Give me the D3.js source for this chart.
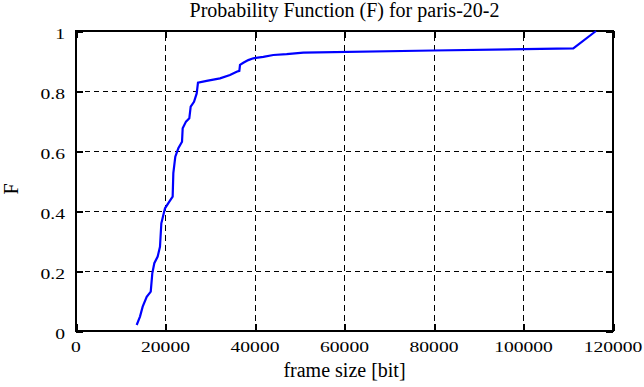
<!DOCTYPE html>
<html>
<head>
<meta charset="utf-8">
<script src="https://cdn.jsdelivr.net/npm/d3@7/dist/d3.min.js"></script>
<style>
  body { margin: 0; background: #fff; }
  svg { display: block; }
</style>
</head>
<body>
<svg id="chart" width="644" height="387"></svg>
<script>
// frame size [bit] and cumulative probability F
const frameSizes = [13560, 14300, 14900, 15800, 16700, 17050, 17500, 18250, 18770, 19070,
  19890, 20850, 21600, 21750, 22190, 22870, 23690, 23840, 24580, 25320,
  25630, 26370, 26970, 27260, 29200, 32180, 34410, 35900, 36500, 36650,
  37390, 38500, 39620, 41860, 44090, 47080, 50800, 79850, 111130, 116200];
const probF = [0.020, 0.048, 0.081, 0.114, 0.131, 0.192, 0.226, 0.248, 0.281, 0.359,
  0.409, 0.431, 0.448, 0.526, 0.581, 0.609, 0.631, 0.676, 0.698, 0.709,
  0.748, 0.764, 0.792, 0.828, 0.834, 0.842, 0.853, 0.864, 0.867, 0.887,
  0.894, 0.903, 0.909, 0.914, 0.920, 0.923, 0.928, 0.935, 0.942, 1.000];
const xTicks = [0, 20000, 40000, 60000, 80000, 100000, 120000];
const yTicks = [0, 0.2, 0.4, 0.6, 0.8, 1];

const margin = { top: 31, right: 31, bottom: 56, left: 76 };
const width = 644, height = 387;
const serif = '"Liberation Serif", "Times New Roman", serif';
const svg = d3.select('#chart');

const x = d3.scaleLinear().domain([0, 120000]).range([margin.left, width - margin.right]);
const y = d3.scaleLinear().domain([0, 1]).range([height - margin.bottom, margin.top]);

const x0 = x.range()[0], x1 = x.range()[1];
const y0 = y.range()[0], y1 = y.range()[1];

// dashed grid (skip the ones sitting on the border)
svg.append('g')
  .attr('shape-rendering', 'crispEdges')
  .selectAll('line')
  .data(xTicks.slice(1, -1))
  .join('line')
  .attr('x1', d => x(d)).attr('x2', d => x(d))
  .attr('y1', y0).attr('y2', y1)
  .attr('stroke', '#000').attr('stroke-width', 1)
  .attr('stroke-dasharray', '6,4');

svg.append('g')
  .attr('shape-rendering', 'crispEdges')
  .selectAll('line')
  .data(yTicks.slice(1, -1))
  .join('line')
  .attr('x1', x0).attr('x2', x1)
  .attr('y1', d => y(d)).attr('y2', d => y(d))
  .attr('stroke', '#000').attr('stroke-width', 1)
  .attr('stroke-dasharray', '5,4');

// axes with inward ticks, mirrored on top and right; labels drawn separately
const tickLen = 7;
function styleAxis(g) {
  g.attr('shape-rendering', 'crispEdges');
  g.select('.domain').remove();
  g.selectAll('.tick line').attr('stroke', '#000').attr('stroke-width', 2);
  g.selectAll('.tick text').remove();
}

svg.append('g')
  .attr('transform', `translate(0,${y0})`)
  .call(d3.axisBottom(x).tickValues(xTicks).tickSizeInner(-tickLen).tickSizeOuter(0))
  .call(styleAxis);

svg.append('g')
  .attr('transform', `translate(0,${y1})`)
  .call(d3.axisTop(x).tickValues(xTicks).tickSizeInner(-tickLen).tickSizeOuter(0))
  .call(styleAxis);

svg.append('g')
  .attr('transform', `translate(${x0},0)`)
  .call(d3.axisLeft(y).tickValues(yTicks).tickSizeInner(-tickLen).tickSizeOuter(0))
  .call(styleAxis);

svg.append('g')
  .attr('transform', `translate(${x1},0)`)
  .call(d3.axisRight(y).tickValues(yTicks).tickSizeInner(-tickLen).tickSizeOuter(0))
  .call(styleAxis);

// tick labels: wide serif digits, like the original bitmap font
const stretch = 1.4;
const yFmt = d => (d === 0 || d === 1) ? d3.format('d')(d) : d3.format('.1f')(d);

svg.append('g')
  .selectAll('text')
  .data(xTicks)
  .join('text')
  .attr('transform', d => `translate(${x(d)},352) scale(${stretch},1)`)
  .attr('text-anchor', 'middle')
  .style('font-family', serif)
  .style('font-size', '14px')
  .text(d3.format('d'));

svg.append('g')
  .selectAll('text')
  .data(yTicks)
  .join('text')
  .attr('transform', d => `translate(65,${y(d) + 8}) scale(${stretch},1)`)
  .attr('text-anchor', 'end')
  .style('font-family', serif)
  .style('font-size', '14px')
  .text(yFmt);

// border
svg.append('rect')
  .attr('x', x0).attr('y', y1)
  .attr('width', x1 - x0).attr('height', y0 - y1)
  .attr('shape-rendering', 'crispEdges')
  .attr('fill', 'none').attr('stroke', '#000').attr('stroke-width', 2);

// curve
const line = d3.line()
  .x((d, i) => x(frameSizes[i]))
  .y(d => y(d));

svg.append('path')
  .datum(probF)
  .attr('d', line)
  .attr('fill', 'none')
  .attr('stroke', '#0000ff')
  .attr('stroke-width', 2.2);

// titles
function bigText(sel) {
  sel.style('font-family', serif).style('font-size', '20px').attr('text-anchor', 'middle');
}

svg.append('text')
  .attr('x', (x0 + x1) / 2).attr('y', 17)
  .call(bigText)
  .text('Probability Function (F) for paris-20-2');

svg.append('text')
  .attr('x', (x0 + x1) / 2).attr('y', 377)
  .call(bigText)
  .text('frame size [bit]');

svg.append('text')
  .attr('transform', 'translate(17.5,189) rotate(-90)')
  .call(bigText)
  .text('F');
</script>
</body>
</html>
